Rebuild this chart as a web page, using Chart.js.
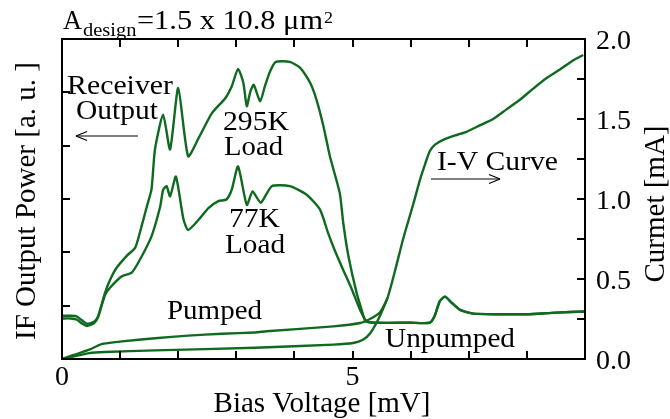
<!DOCTYPE html>
<html>
<head>
<meta charset="utf-8">
<script src="https://cdn.jsdelivr.net/npm/chart.js@4.4.1/dist/chart.umd.min.js"></script>
<style>
html,body{margin:0;padding:0;background:#fff;}
#wrap{width:670px;height:419px;}
</style>
</head>
<body>
<div id="wrap"><canvas id="c" width="670" height="419"></canvas></div>
<script>
// ---- data ----
// IF output power, 295 K load (arbitrary units, left axis 0..6)
const if295Bias = [0,0.15,0.25,0.35,0.43,0.55,0.62,0.74,0.83,0.94,1.11,1.26,1.34,1.46,1.54,1.60,1.74,1.86,2.00,2.17,2.35,2.58,2.81,2.92,3.03,3.12,3.18,3.24,3.30,3.41,3.49,3.58,3.68,3.92,4.10,4.27,4.38,4.50,4.61,4.78,4.84,4.93,5.07,5.19,5.22,5.40,6.00,6.33,6.41,6.50,6.59,6.71,6.85,7.08,7.50,8.00,8.50,9.00];
const if295Power = [0.81,0.81,0.80,0.72,0.66,0.70,0.80,1.24,1.49,1.71,1.93,2.09,2.37,2.86,3.18,3.93,4.58,3.93,5.08,3.80,4.14,4.61,4.89,5.11,5.44,5.18,4.74,5.01,5.14,4.83,5.11,5.39,5.57,5.57,5.46,5.18,4.86,4.36,3.80,3.11,2.55,1.92,1.24,0.80,0.71,0.68,0.68,0.68,0.80,1.08,1.17,1.05,0.92,0.85,0.84,0.84,0.87,0.89];
// IF output power, 77 K load
const if77Bias = [0,0.15,0.25,0.35,0.43,0.55,0.62,0.74,0.83,1.03,1.20,1.34,1.54,1.69,1.74,1.80,1.86,1.96,2.09,2.17,2.35,2.52,2.69,2.83,2.92,3.03,3.18,3.28,3.42,3.61,3.92,4.21,4.44,4.58,4.70,4.84,4.99,5.13,5.24,5.40,6.00,6.33,6.41,6.50,6.59,6.71,6.85,7.08,7.50,8.00,8.50,9.00];
const if77Power = [0.76,0.76,0.74,0.66,0.62,0.67,0.78,1.20,1.34,1.55,1.62,1.86,2.30,2.86,3.17,3.24,3.05,3.42,2.62,2.42,2.61,2.83,2.96,2.99,3.17,3.61,2.89,3.14,2.93,3.24,3.24,3.08,2.80,2.36,2.02,1.67,1.30,0.92,0.71,0.68,0.68,0.68,0.80,1.08,1.17,1.05,0.92,0.85,0.84,0.84,0.87,0.89];
// I-V curves (mA, right axis 0..2)
const pumpedBias = [0,0.2,0.47,0.68,1.03,1.60,2.17,2.75,3.32,3.52,4.67,5.13,5.30,5.47,5.60,5.73,5.87,6.05,6.16,6.25,6.33,6.42,6.56,6.79,6.96,7.19,7.42,7.65,7.88,8.11,8.34,8.57,8.80,8.97];
const pumpedCurrent = [0,0.025,0.058,0.093,0.11,0.13,0.146,0.158,0.166,0.173,0.204,0.225,0.25,0.29,0.38,0.55,0.75,0.975,1.12,1.22,1.30,1.34,1.37,1.40,1.42,1.46,1.50,1.56,1.62,1.69,1.756,1.81,1.867,1.90];
const unpumpedBias = [0,0.47,0.74,1.60,3.32,4.67,5.01,5.18,5.30,5.41,5.52,5.60];
const unpumpedCurrent = [0,0.037,0.044,0.054,0.07,0.09,0.10,0.12,0.16,0.225,0.31,0.38];
// axes
const xTickValues = [0,1,2,3,4,5,6,7,8,9];
const xTickLabels = ['0','','','','','5','','','',''];
const leftTickValues = [1,2,3,4,5];
const rightTickValues = [0,0.25,0.5,0.75,1,1.25,1.5,1.75,2];
const rightTickLabels = ['0.0','','0.5','','1.0','','1.5','','2.0'];

const GREEN = '#0f6a1f';
const SERIF = '"Liberation Serif","Times New Roman",serif';
const pts = (xs, ys) => xs.map((x, i) => ({x: x, y: ys[i]}));

const ds = (label, xs, ys, axis) => ({
  label: label, data: pts(xs, ys), yAxisID: axis,
  borderColor: GREEN, borderWidth: 2.4, pointRadius: 0, fill: false,
  tension: 0.2
});

// draw text so that it spans [x0, x1] horizontally at the given baseline
function fitText(ctx, str, x0, x1, base, size) {
  ctx.font = size + 'px ' + SERIF;
  ctx.textAlign = 'left';
  ctx.textBaseline = 'alphabetic';
  const w = ctx.measureText(str).width;
  const s = (x1 - x0) / w;
  ctx.save();
  ctx.translate(x0, base);
  ctx.scale(s, 1);
  ctx.fillText(str, 0, 0);
  ctx.restore();
}

const decor = {
  id: 'decor',
  afterDatasetsDraw(chart) {
    const ctx = chart.ctx, a = chart.chartArea;
    const sx = chart.scales.x, sy = chart.scales.y, sy2 = chart.scales.y2;
    ctx.save();
    ctx.strokeStyle = '#000'; ctx.fillStyle = '#000';
    // frame
    ctx.lineWidth = 2;
    ctx.strokeRect(a.left, a.top, a.right - a.left, a.bottom - a.top);
    // inward ticks
    const TL = 8;
    xTickValues.forEach(v => {
      const px = Math.round(sx.getPixelForValue(v));
      ctx.beginPath();
      ctx.moveTo(px, a.bottom); ctx.lineTo(px, a.bottom - TL);
      ctx.moveTo(px, a.top); ctx.lineTo(px, a.top + TL);
      ctx.stroke();
    });
    leftTickValues.forEach(v => {
      const py = Math.round(sy.getPixelForValue(v));
      ctx.beginPath(); ctx.moveTo(a.left, py); ctx.lineTo(a.left + TL, py); ctx.stroke();
    });
    rightTickValues.forEach(v => {
      const py = Math.round(sy2.getPixelForValue(v));
      ctx.beginPath(); ctx.moveTo(a.right, py); ctx.lineTo(a.right - TL, py); ctx.stroke();
    });
    // tick labels
    ctx.font = '28px ' + SERIF;
    ctx.textAlign = 'center'; ctx.textBaseline = 'alphabetic';
    xTickValues.forEach((v, i) => {
      if (xTickLabels[i]) ctx.fillText(xTickLabels[i], sx.getPixelForValue(v), 385);
    });
    ctx.textAlign = 'left';
    rightTickValues.forEach((v, i) => {
      if (rightTickLabels[i]) ctx.fillText(rightTickLabels[i], a.right + 11, sy2.getPixelForValue(v) + 10);
    });
    // axis titles
    ctx.font = '29px ' + SERIF;
    ctx.textAlign = 'center';
    ctx.fillText('Bias Voltage [mV]', 322, 412);
    ctx.save();
    ctx.translate(35, 201); ctx.rotate(-Math.PI / 2);
    ctx.fillText('IF Output Power [a. u. ]', 0, 0);
    ctx.restore();
    ctx.save();
    ctx.translate(664, 204); ctx.rotate(-Math.PI / 2);
    ctx.fillText('Curmet [mA]', 0, 0);
    ctx.restore();
    // header
    fitText(ctx, 'A', 63, 82, 28.5, 27);
    fitText(ctx, 'design', 83, 136.5, 36, 18);
    fitText(ctx, '=1.5 x 10.8 \u03bcm', 137, 323, 28.5, 27);
    fitText(ctx, '2', 324, 333, 23, 16);
    // annotations
    fitText(ctx, 'Receiver', 67, 173, 93.5, 28);
    fitText(ctx, 'Output', 76, 158, 118.5, 28);
    fitText(ctx, '295K', 223, 289, 129.5, 28);
    fitText(ctx, 'Load', 224, 283, 155, 28);
    fitText(ctx, '77K', 229, 280, 227, 28);
    fitText(ctx, 'Load', 225, 285, 252.5, 28);
    fitText(ctx, 'I-V Curve', 437, 558, 170, 28);
    fitText(ctx, 'Pumped', 167, 262, 318.5, 28);
    fitText(ctx, 'Unpumped', 385, 515, 347, 28);
    // arrows
    ctx.lineWidth = 1.2;
    ctx.beginPath(); ctx.moveTo(76, 136); ctx.lineTo(138, 136); ctx.stroke();
    ctx.beginPath(); ctx.moveTo(76, 136); ctx.lineTo(87, 131.5); ctx.moveTo(76, 136); ctx.lineTo(87, 140.5); ctx.stroke();
    ctx.beginPath(); ctx.moveTo(431, 179); ctx.lineTo(500, 179); ctx.stroke();
    ctx.beginPath(); ctx.moveTo(500, 179); ctx.lineTo(489, 174.5); ctx.moveTo(500, 179); ctx.lineTo(489, 183.5); ctx.stroke();
    ctx.restore();
  }
};

new Chart(document.getElementById('c'), {
  type: 'line',
  data: {
    datasets: [
      ds('295K Load', if295Bias, if295Power, 'y'),
      ds('77K Load', if77Bias, if77Power, 'y'),
      ds('Pumped', pumpedBias, pumpedCurrent, 'y2'),
      ds('Unpumped', unpumpedBias, unpumpedCurrent, 'y2')
    ]
  },
  options: {
    responsive: false,
    animation: false,
    devicePixelRatio: 1,
    layout: { padding: { left: 62, right: 85, top: 39, bottom: 60 } },
    plugins: { legend: { display: false }, tooltip: { enabled: false } },
    scales: {
      x: { type: 'linear', min: 0, max: 9, display: false },
      y: { type: 'linear', min: 0, max: 6, display: false },
      y2: { type: 'linear', min: 0, max: 2, display: false, position: 'right' }
    }
  },
  plugins: [decor]
});
</script>
</body>
</html>
